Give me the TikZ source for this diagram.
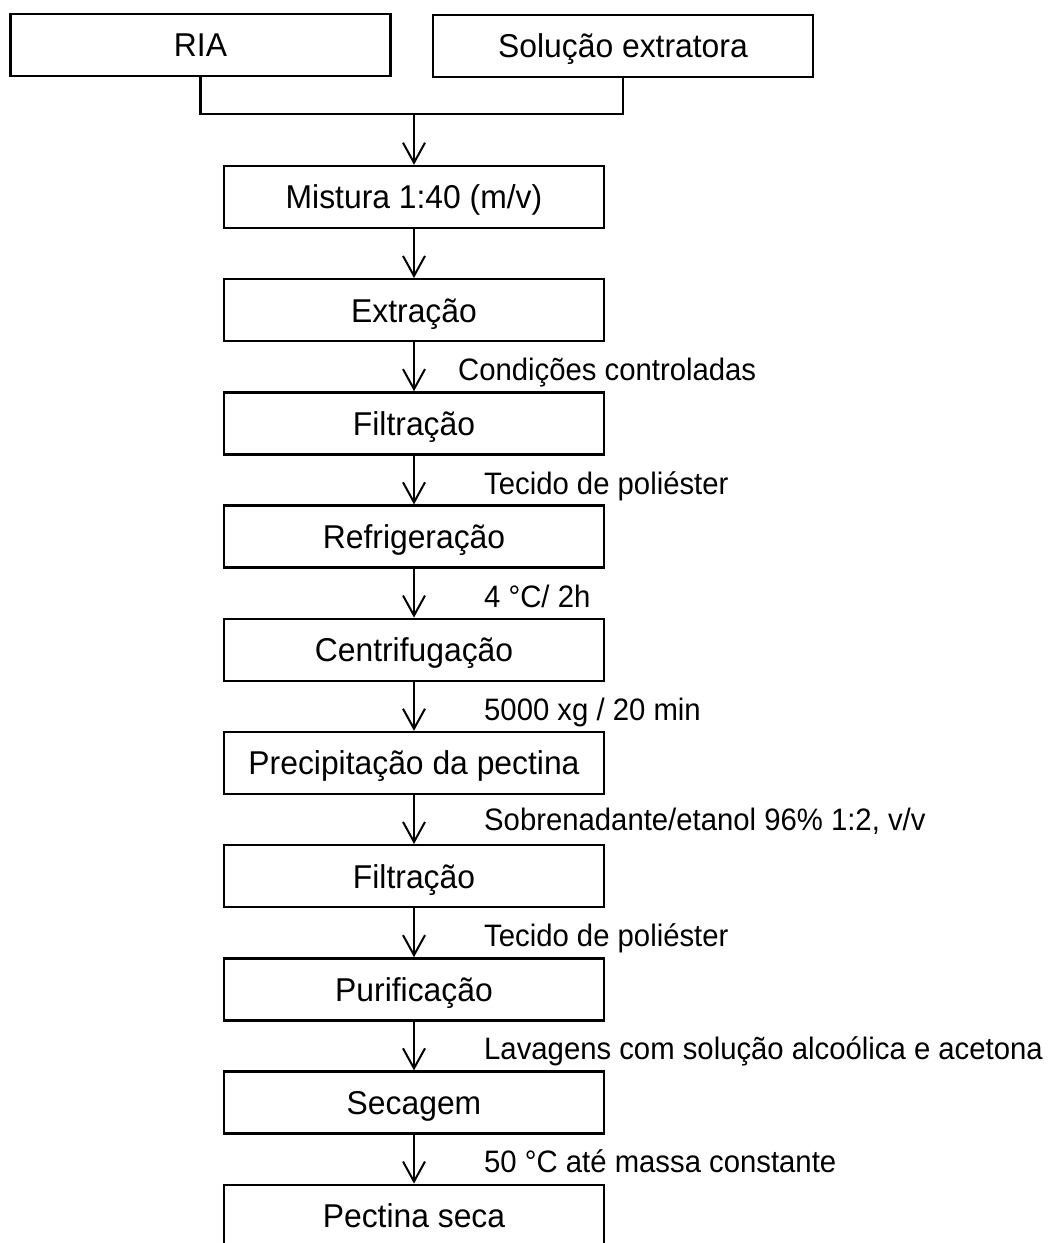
\documentclass[tikz,border=0pt]{standalone}
\usepackage{fontspec}
\setmainfont{Liberation Sans}
\newfontfamily\boxfont[FakeStretch=0.965]{Liberation Sans}
\newfontfamily\notefont[FakeStretch=0.945]{Liberation Sans}
\usetikzlibrary{arrows.meta}
\begin{document}
\begin{tikzpicture}[x=1pt,y=-1pt,
  stepbox/.style={draw, line width=2.4pt, minimum width=380pt, minimum height=62pt,
    font=\boxfont\fontsize{33}{38}\selectfont, inner sep=0pt, text height=23.6pt, text depth=0pt},
  flow/.style={line width=2pt, -{Straight Barb[length=20pt,width=22pt,line width=2pt]}},
  plainline/.style={line width=2.4pt},
  note/.style={anchor=west, font=\notefont\fontsize{31}{36}\selectfont, inner sep=0pt,
    text height=22.2pt, text depth=0pt}]
\clip (0,0) rectangle (1048,1243);
\fill[white] (0,0) rectangle (1048,1243);
% top boxes
\node[stepbox] (ria) at (200.5,45) {RIA};
\node[stepbox] (sol) at (623,46) {Solução extratora};
\coordinate (j) at (414,114);
% steps
\node[stepbox] (s1) at (414,197) {Mistura 1:40 (m/v)};
\node[stepbox] (s2) at (414,310.2) {Extração};
\node[stepbox] (s3) at (414,423.4) {Filtração};
\node[stepbox] (s4) at (414,536.6) {Refrigeração};
\node[stepbox] (s5) at (414,649.8) {Centrifugação};
\node[stepbox] (s6) at (414,763) {Precipitação da pectina};
\node[stepbox] (s7) at (414,876.2) {Filtração};
\node[stepbox] (s8) at (414,989.4) {Purificação};
\node[stepbox] (s9) at (414,1102.6) {Secagem};
\node[stepbox] (s10) at (414,1215.8) {Pectina seca};
% connectors
\draw[plainline] (ria.south) |- (j);
\draw[plainline] (sol.south) |- (j);
\draw[flow] (j) -- (s1.north);
\foreach \a/\b in {s1/s2,s2/s3,s3/s4,s4/s5,s5/s6,s6/s7,s7/s8,s8/s9,s9/s10}
  \draw[flow] (\a.south) -- (\b.north);
% labels
\node[note] (l2) at (458,369) {Condições controladas};
\node[note] (l3) at (484,483) {Tecido de poliéster};
\node[note] (l4) at (484,596) {4 °C/ 2h};
\node[note] (l5) at (484,709) {5000 xg / 20 min};
\node[note] (l6) at (484,819) {Sobrenadante/etanol 96\% 1:2, v/v};
\node[note] (l7) at (484,935) {Tecido de poliéster};
\node[note] (l8) at (484,1048) {Lavagens com solução alcoólica e acetona};
\node[note] (l9) at (484,1161) {50 °C até massa constante};
\end{tikzpicture}
\end{document}
